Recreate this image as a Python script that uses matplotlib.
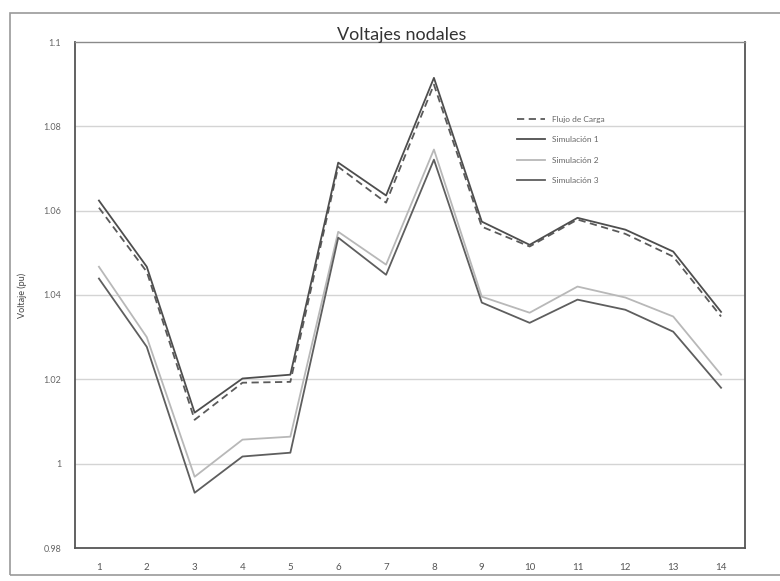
import numpy as np
import matplotlib.pyplot as plt
from matplotlib.patches import Rectangle

# Voltajes por nodo (pu)
nodos = list(range(1, 15))
flujo_carga = [1.0607, 1.0455, 1.0104, 1.0192, 1.0194, 1.0704, 1.0619,
               1.0899, 1.0562, 1.0515, 1.0579, 1.0545, 1.0491, 1.0349]
sim_1 = [1.0624, 1.0467, 1.0121, 1.0202, 1.0211, 1.0714, 1.0636,
         1.0915, 1.0574, 1.0519, 1.0583, 1.0555, 1.0503, 1.0360]
sim_2 = [1.0467, 1.0300, 0.9969, 1.0057, 1.0064, 1.0550, 1.0472,
         1.0745, 1.0396, 1.0358, 1.0420, 1.0394, 1.0349, 1.0211]
sim_3 = [1.0439, 1.0277, 0.9931, 1.0017, 1.0026, 1.0536, 1.0448,
         1.0721, 1.0382, 1.0334, 1.0389, 1.0365, 1.0313, 1.0180]
y_ticks = [0.98, 1.0, 1.02, 1.04, 1.06, 1.08, 1.1]
y_tick_labels = ["0.98", "1", "1.02", "1.04", "1.06", "1.08", "1.1"]

plt.rcParams['font.family'] = ['Lato', 'DejaVu Sans']

fig = plt.figure(figsize=(7.8, 5.81), dpi=100)
ax = fig.add_axes([75/780, 1-548/581, 670/780, 506/581])

# marco exterior del grafico
fig.patches.append(Rectangle((10/780, 1-575/581), 800/780, 562/581,
                             transform=fig.transFigure, fill=False,
                             edgecolor='#9a9a9a', lw=1.2))

for y in y_ticks[1:-1]:
    ax.axhline(y, color='#d4d4d4', lw=1.0, zorder=0)

ax.plot(nodos, flujo_carga, color='#5a5a5a', lw=1.3, ls=(0, (4, 2.5)), label='Flujo de Carga')
ax.plot(nodos, sim_1, color='#4e4e4e', lw=1.3, label='Simulación 1')
ax.plot(nodos, sim_2, color='#b8b8b8', lw=1.3, label='Simulación 2')
ax.plot(nodos, sim_3, color='#5e5e5e', lw=1.3, label='Simulación 3')

ax.set_xlim(0.5, 14.5)
ax.set_ylim(0.98, 1.1)
ax.set_xticks(nodos)
ax.set_xticklabels([str(n) for n in nodos], fontsize=7, color='#555555')
ax.set_yticks(y_ticks)
ax.set_yticklabels(y_tick_labels, fontsize=6.5, color='#666666')
ax.tick_params(length=0, pad=10)
ax.tick_params(axis='x', pad=11)

for side in ['left', 'bottom', 'right']:
    ax.spines[side].set_color('#555555')
    ax.spines[side].set_linewidth(1.3)
ax.spines['top'].set_color('#8a8a8a')
ax.spines['top'].set_linewidth(1.0)

ax.set_ylabel('Voltaje (pu)', fontsize=6.5, color='#444444', labelpad=12)
fig.text(402/780, 1-35/581, 'Voltajes nodales', ha='center', va='center',
         fontsize=13, color='#333333')

fig.legend(loc='upper left', bbox_to_anchor=(517/780, 1-116/581),
           frameon=False, fontsize=6, labelcolor='#666666',
           handlelength=3.4, handletextpad=0.8, labelspacing=1.6,
           borderpad=0, borderaxespad=0)

fig.savefig('out.png', dpi=100)
